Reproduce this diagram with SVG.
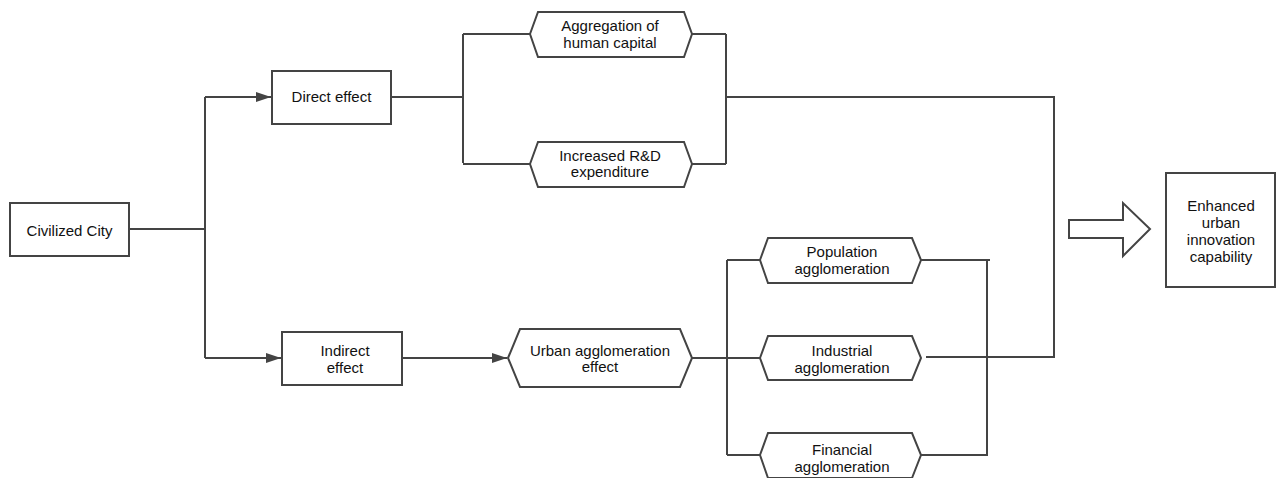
<svg xmlns="http://www.w3.org/2000/svg" width="1276" height="478" viewBox="0 0 1276 478">
<style>
.n{fill:#fff;stroke:#444;stroke-width:2}
.c{fill:none;stroke:#444;stroke-width:2}
text{font-family:"Liberation Sans",Arial,sans-serif;font-size:15px;fill:#111;text-anchor:middle}
</style>
<defs>
<marker id="ah" markerWidth="16" markerHeight="10" refX="15" refY="5" orient="auto" markerUnits="userSpaceOnUse">
<path d="M0,0 L15,5 L0,10 Z" fill="#444"/>
</marker>
</defs>
<rect width="1276" height="478" fill="#fff"/>
<g id="connectors">
<path class="c" d="M129,229 H205 M205,97 V358"/>
<path class="c" d="M205,97 H271" marker-end="url(#ah)"/>
<path class="c" d="M205,358 H281" marker-end="url(#ah)"/>
<path class="c" d="M391,97 H463 M463,34 V163 M463,34 H530 M463,164 H530"/>
<path class="c" d="M692,34 H726 M692,164 H726 M726,34 V164 M726,97 H1054 V357 H926"/>
<path class="c" d="M402,358 H507" marker-end="url(#ah)"/>
<path class="c" d="M692,358 H760 M727,260 V455 M727,260 H760 M727,455 H760"/>
<path class="c" d="M921,260 H990 M921,455 H987 M987,260 V456"/>
</g>
<g id="civilized-city"><rect class="n" x="10" y="203" width="119" height="53"/><text x="69.5" y="236">Civilized City</text></g>
<g id="direct-effect"><rect class="n" x="272" y="71" width="119" height="53"/><text x="331.5" y="102">Direct effect</text></g>
<g id="indirect-effect"><rect class="n" x="282" y="332" width="120" height="53"/><text x="345" y="356">Indirect</text><text x="345" y="373">effect</text></g>
<g id="human-capital"><polygon class="n" points="530,34 538,12 684,12 692,34 684,57 538,57"/><text x="610" y="31">Aggregation of</text><text x="610" y="48">human capital</text></g>
<g id="rd-expenditure"><polygon class="n" points="530,164 538,142 684,142 692,164 684,187 538,187"/><text x="610" y="161">Increased R&amp;D</text><text x="610" y="177">expenditure</text></g>
<g id="urban-agglomeration"><polygon class="n" points="508,358 520,329 680,329 692,358 680,387 520,387"/><text x="600" y="356">Urban agglomeration</text><text x="600" y="372">effect</text></g>
<g id="population"><polygon class="n" points="760,260 768,238 912,238 921,260 912,283 768,283"/><text x="842" y="257">Population</text><text x="842" y="274">agglomeration</text></g>
<g id="industrial"><polygon class="n" points="760,358 768,336 912,336 921,358 912,380 768,380"/><text x="842" y="356">Industrial</text><text x="842" y="373">agglomeration</text></g>
<g id="financial"><polygon class="n" points="760,455 768,433 912,433 921,455 912,478 768,478"/><text x="842" y="455">Financial</text><text x="842" y="472">agglomeration</text></g>
<g id="big-arrow"><polygon class="n" points="1069,220 1123,220 1123,203 1150,229 1123,256 1123,238 1069,238"/></g>
<g id="enhanced"><rect class="n" x="1166" y="173" width="109" height="114"/><text x="1221" y="211">Enhanced</text><text x="1221" y="228">urban</text><text x="1221" y="245">innovation</text><text x="1221" y="262">capability</text></g>
</svg>
